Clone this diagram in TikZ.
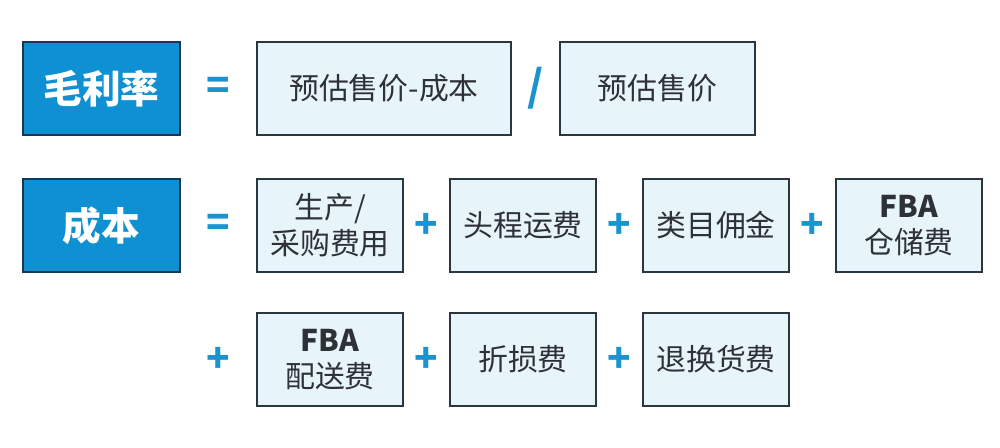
\documentclass[tikz,border=0pt]{standalone}
\usepackage{fontspec}
\setmainfont{Noto Sans CJK SC}
\usepackage{xcolor}
\usetikzlibrary{positioning}

\definecolor{keyblue}{HTML}{0E90D2}
\definecolor{keyline}{HTML}{17384F}
\definecolor{termfill}{HTML}{E7F4FA}
\definecolor{termline}{HTML}{2B3740}
\definecolor{termtext}{HTML}{2E3236}
\definecolor{opblue}{HTML}{1A93D0}

\tikzset{
  keybox/.style={draw=keyline, line width=1.1pt, fill=keyblue, text=white,
    minimum width=3.14cm, minimum height=1.86cm, outer sep=0pt,
    font=\fontsize{22}{26}\selectfont\bfseries},
  term/.style={draw=termline, line width=1.1pt, fill=termfill, text=termtext,
    minimum width=2.93cm, minimum height=1.86cm, align=center, outer sep=0pt,
    font=\fontsize{17}{20.5}\selectfont},
  op/.style={text=opblue, font=\fontsize{22}{26}\selectfont\bfseries},
}

\begin{document}
\begin{tikzpicture}
  \useasboundingbox (0,0) rectangle (20,-8.94);

  % first line
  \node[keybox] (gm) at (2.03,-1.77) {毛利率};
  \node[term, minimum width=5.08cm] (num) at (7.68,-1.77) {预估售价-成本};
  \node[term, minimum width=3.90cm, right=0.98cm of num] (den) {预估售价};
  \path (gm) -- node[op] (eqa) {=} (num);
  \path (num) -- node[op, font=\fontsize{24}{28}\selectfont\bfseries] (sl) {/} (den);

  % second line
  \node[keybox] (cost) at (2.03,-4.51) {成本};
  \node[term] (c1) at (6.60,-4.51) {生产/\\采购费用};
  \node[term, right=0.93cm of c1] (c2) {头程运费};
  \node[term, right=0.93cm of c2] (c3) {类目佣金};
  \node[term, right=0.93cm of c3] (c4) {{\bfseries FBA}\\仓储费};
  \path (cost) -- node[op] (eqb) {=} (c1);
  \path (c1) -- node[op] (p1) {+} (c2);
  \path (c2) -- node[op] (p2) {+} (c3);
  \path (c3) -- node[op] (p3) {+} (c4);

  % third line
  \node[term, below=0.82cm of c1] (c5) {{\bfseries FBA}\\配送费};
  \node[term, right=0.93cm of c5] (c6) {折损费};
  \node[term, right=0.93cm of c6] (c7) {退换货费};
  \node[op] (p4) at (eqb |- c5) {+};
  \path (c5) -- node[op] (p5) {+} (c6);
  \path (c6) -- node[op] (p6) {+} (c7);
\end{tikzpicture}
\end{document}
